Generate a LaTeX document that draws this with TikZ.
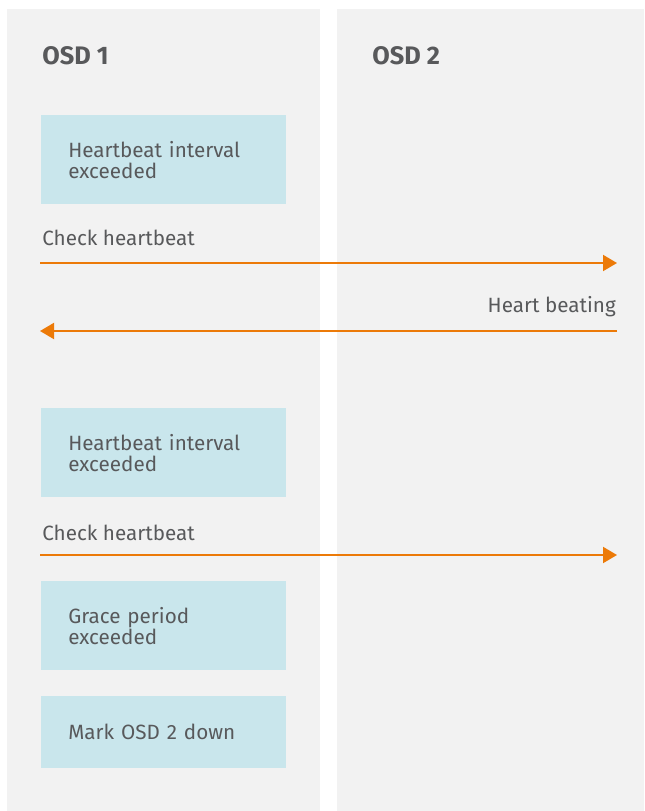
\documentclass[tikz,border=0pt]{standalone}
\usepackage{fontspec}
\setmainfont{Fira Sans}
\usetikzlibrary{arrows.meta,positioning}
\definecolor{Lane}{HTML}{F2F2F2}
\definecolor{Event}{HTML}{C9E6EC}
\definecolor{Ink}{HTML}{58595B}
\definecolor{Signal}{HTML}{EC7A08}

\begin{document}
\begin{tikzpicture}[x=0.75pt,y=-0.75pt,
  lane/.style={fill=Lane,draw=none},
  header/.style={anchor=west,inner sep=0pt,text=Ink,font=\fontsize{19}{22}\selectfont\bfseries},
  event/.style={anchor=north west,fill=Event,draw=none,minimum width=183.75pt,minimum height=66.75pt,
    inner xsep=20.25pt,text width=143.25pt,align=left,text=Ink,font=\fontsize{15.5}{15.5}\selectfont},
  msg/.style={inner sep=0pt,text=Ink,font=\fontsize{15.5}{16}\selectfont},
  arrow/.style={-{Triangle[length=10.5pt,width=12pt]},line width=1.5pt,draw=Signal}
]
\useasboundingbox (0,0) rectangle (644,811);
\fill[lane] (7,9) rectangle (320,811);
\fill[lane] (337,9) rectangle (644,811);
\node[header] (osd1) at (42,56) {OSD 1};
\node[header] (osd2) at (372,56) {OSD 2};
\node[event] (hb1) at (41,115) {Heartbeat interval\\exceeded};
\node[msg,anchor=west] (chk1) at (42,238) {Check heartbeat};
\coordinate (l1) at (40,263);
\coordinate (r1) at (617,263);
\draw[arrow] (l1) -- (r1);
\node[msg,anchor=east] (beat) at (616,307) {Heart beating};
\coordinate (r2) at (617,331);
\coordinate (l2) at (40,331);
\draw[arrow] (r2) -- (l2);
\node[event] (hb2) at (41,408) {Heartbeat interval\\exceeded};
\node[msg,anchor=west] (chk2) at (42,533) {Check heartbeat};
\coordinate (l3) at (40,555);
\coordinate (r3) at (617,555);
\draw[arrow] (l3) -- (r3);
\node[event] (grace) at (41,581) {Grace period\\exceeded};
\node[event,minimum height=54pt] (mark) at (41,696) {Mark OSD 2 down};
\end{tikzpicture}
\end{document}
